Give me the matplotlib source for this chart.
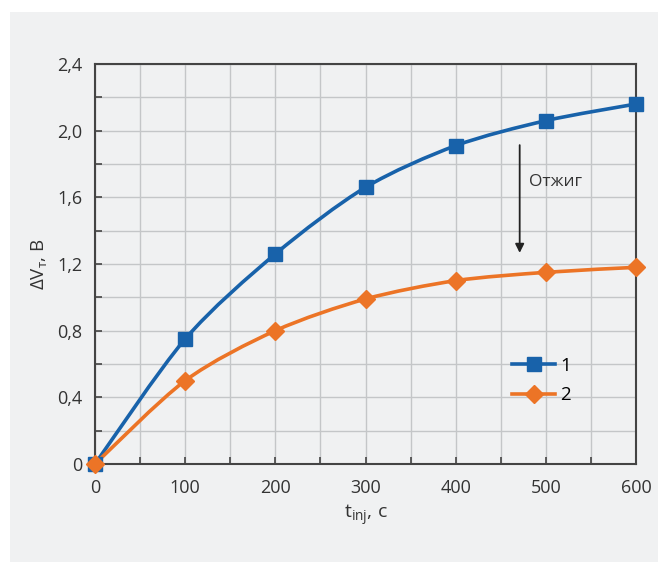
import matplotlib; matplotlib.use('Agg')

import matplotlib.pyplot as plt
from matplotlib.path import Path
from matplotlib.patches import PathPatch, Rectangle
import numpy as np

t_inj = [0, 100, 200, 300, 400, 500, 600]
dv1 = [0.0, 0.75, 1.26, 1.66, 1.91, 2.06, 2.16]
dv2 = [0.0, 0.50, 0.80, 0.99, 1.10, 1.15, 1.18]
xtick_labels = ['0', '100', '200', '300', '400', '500', '600']
ytick_labels = ['0', '0,4', '0,8', '1,2', '1,6', '2,0', '2,4']

BLUE = '#1862aa'
ORANGE = '#ec7426'
BG = '#f0f1f2'

plt.rcParams['font.family'] = ['Open Sans', 'DejaVu Sans']
plt.rcParams['mathtext.fontset'] = 'custom'
plt.rcParams['mathtext.rm'] = 'Open Sans'
plt.rcParams['mathtext.it'] = 'Open Sans'


def smooth_path(x, y):
    # Excel-like smoothed line: cubic bezier with catmull-rom control points
    x = np.asarray(x, float)
    y = np.asarray(y, float)
    verts = [(x[0], y[0])]
    codes = [Path.MOVETO]
    n = len(x)
    k = 7.0
    for i in range(n - 1):
        x0, y0 = (x[i - 1], y[i - 1]) if i > 0 else (x[i], y[i])
        x3, y3 = (x[i + 2], y[i + 2]) if i + 2 < n else (x[i + 1], y[i + 1])
        c1 = (x[i] + (x[i + 1] - x0) / k, y[i] + (y[i + 1] - y0) / k)
        c2 = (x[i + 1] - (x3 - x[i]) / k, y[i + 1] - (y3 - y[i]) / k)
        verts += [c1, c2, (x[i + 1], y[i + 1])]
        codes += [Path.CURVE4] * 3
    return Path(verts, codes)


fig = plt.figure(figsize=(6.58, 5.62), dpi=100, facecolor='white')
fig.patches.append(Rectangle((10 / 658, 0), 1, 1 - 12 / 562, transform=fig.transFigure,
                             facecolor=BG, edgecolor='none', zorder=-10))
ax = fig.add_axes([95 / 658, 1 - 464 / 562, 541 / 658, 400 / 562])
ax.set_facecolor(BG)

for y, c in ((dv1, BLUE), (dv2, ORANGE)):
    ax.add_patch(PathPatch(smooth_path(t_inj, y), facecolor='none', edgecolor=c,
                           lw=2.6, zorder=3, clip_on=False))

ax.plot(t_inj, dv1, ls='none', marker='s', ms=10.5, color=BLUE, zorder=4, clip_on=False)
ax.plot(t_inj, dv2, ls='none', marker='D', ms=9.5, color=ORANGE, zorder=4, clip_on=False)

# legend handles
ax.plot([], [], color=BLUE, lw=2.6, marker='s', ms=10.5, label='1')
ax.plot([], [], color=ORANGE, lw=2.6, marker='D', ms=9.5, label='2')
ax.legend(loc='upper left', bbox_to_anchor=(0.74, 0.31), frameon=False,
          handlelength=2.3, fontsize=13.5, labelspacing=0.6, handletextpad=0.25)

ax.annotate('', xy=(471, 1.25), xytext=(471, 1.93),
            arrowprops=dict(arrowstyle='-|>', color='#222222', lw=1.3,
                            mutation_scale=13))
ax.text(481, 1.69, 'Отжиг', fontsize=12.5, color='#333333', va='center')

ax.set_xlim(0, 600)
ax.set_ylim(0, 2.4)
ax.set_xticks(t_inj)
ax.set_xticklabels(xtick_labels)
ax.set_xticks(np.arange(50, 600, 100), minor=True)
ax.set_yticks(np.arange(0, 2.41, 0.4))
ax.set_yticklabels(ytick_labels)
ax.set_yticks(np.arange(0.2, 2.4, 0.4), minor=True)
ax.tick_params(which='both', direction='in', length=5, width=1.2, color='#444444',
               labelsize=13, labelcolor='#333333')
ax.tick_params(axis='x', pad=11)
ax.tick_params(axis='y', pad=9)
ax.grid(which='both', color='#c4c6c8', lw=1.0)
ax.set_axisbelow(True)
for s in ax.spines.values():
    s.set_color('#444444')
    s.set_linewidth(1.5)

ax.set_xlabel(r't$_{\mathrm{inj}}$, с', fontsize=14, color='#333333', labelpad=4)
ax.set_ylabel(r'ΔV$_{\mathrm{т}}$, В', fontsize=13.5, color='#333333', labelpad=6)

fig.savefig('out.png', dpi=100, facecolor=fig.get_facecolor())
